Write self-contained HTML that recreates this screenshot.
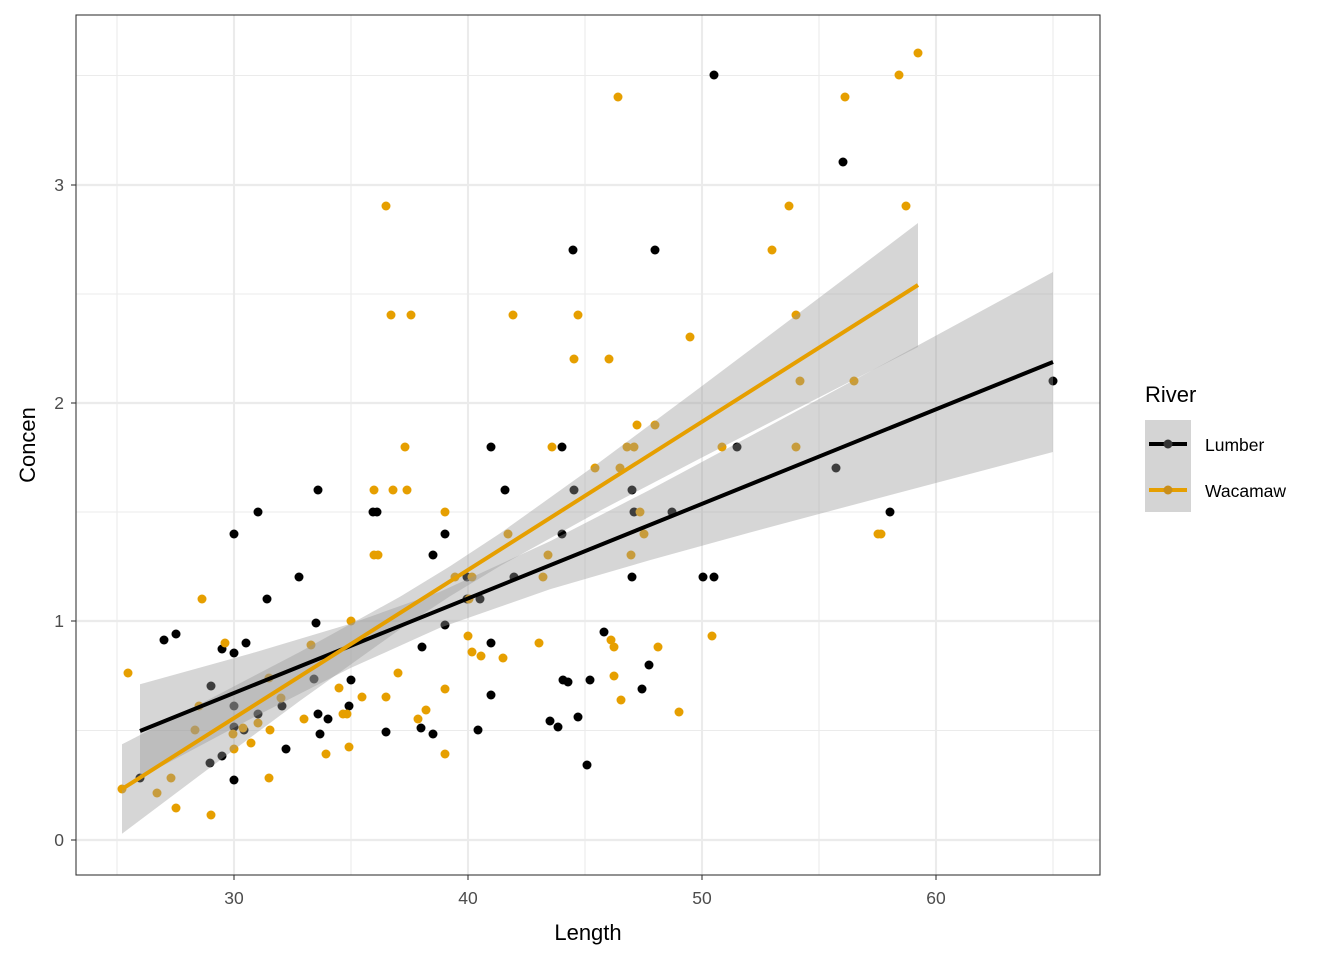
<!DOCTYPE html>
<html><head><style>body{margin:0;background:#fff}svg{display:block;font-family:"Liberation Sans",Arial,sans-serif}</style></head><body>
<svg width="1344" height="960" xmlns="http://www.w3.org/2000/svg">
<rect width="1344" height="960" fill="#fff"/>
<g stroke="#EBEBEB" stroke-width="1.07">
<line x1="117" y1="15" x2="117" y2="875"/><line x1="351" y1="15" x2="351" y2="875"/><line x1="585" y1="15" x2="585" y2="875"/><line x1="819" y1="15" x2="819" y2="875"/><line x1="1053" y1="15" x2="1053" y2="875"/>
<line x1="76" y1="730.5" x2="1100" y2="730.5"/><line x1="76" y1="512" x2="1100" y2="512"/><line x1="76" y1="294" x2="1100" y2="294"/><line x1="76" y1="75.5" x2="1100" y2="75.5"/>
</g>
<g stroke="#EBEBEB" stroke-width="2.13">
<line x1="234" y1="15" x2="234" y2="875"/><line x1="468" y1="15" x2="468" y2="875"/><line x1="702" y1="15" x2="702" y2="875"/><line x1="936" y1="15" x2="936" y2="875"/>
<line x1="76" y1="840" x2="1100" y2="840"/><line x1="76" y1="621" x2="1100" y2="621"/><line x1="76" y1="403" x2="1100" y2="403"/><line x1="76" y1="185" x2="1100" y2="185"/>
</g>
<g fill="#000">
<circle cx="714" cy="75" r="4.5"/><circle cx="843" cy="162" r="4.5"/><circle cx="573" cy="250" r="4.5"/><circle cx="655" cy="250" r="4.5"/><circle cx="1053" cy="381" r="4.5"/><circle cx="491" cy="447" r="4.5"/><circle cx="562" cy="447" r="4.5"/><circle cx="737" cy="447" r="4.5"/><circle cx="318" cy="490" r="4.5"/><circle cx="505" cy="490" r="4.5"/><circle cx="574" cy="490" r="4.5"/><circle cx="632" cy="490" r="4.5"/><circle cx="258" cy="512" r="4.5"/><circle cx="373" cy="512" r="4.5"/><circle cx="377" cy="512" r="4.5"/><circle cx="634" cy="512" r="4.5"/><circle cx="672" cy="512" r="4.5"/><circle cx="890" cy="512" r="4.5"/><circle cx="836" cy="468" r="4.5"/><circle cx="234" cy="534" r="4.5"/><circle cx="445" cy="534" r="4.5"/><circle cx="562" cy="534" r="4.5"/><circle cx="433" cy="555" r="4.5"/><circle cx="299" cy="577" r="4.5"/><circle cx="514" cy="577" r="4.5"/><circle cx="632" cy="577" r="4.5"/><circle cx="703" cy="577" r="4.5"/><circle cx="714" cy="577" r="4.5"/><circle cx="467" cy="577" r="4.5"/><circle cx="267" cy="599" r="4.5"/><circle cx="480" cy="599" r="4.5"/><circle cx="164" cy="640" r="4.5"/><circle cx="176" cy="634" r="4.5"/><circle cx="316" cy="623" r="4.5"/><circle cx="222" cy="649" r="4.5"/><circle cx="234" cy="653" r="4.5"/><circle cx="246" cy="643" r="4.5"/><circle cx="604" cy="632" r="4.5"/><circle cx="491" cy="643" r="4.5"/><circle cx="649" cy="665" r="4.5"/><circle cx="211" cy="686" r="4.5"/><circle cx="314" cy="679" r="4.5"/><circle cx="351" cy="680" r="4.5"/><circle cx="422" cy="647" r="4.5"/><circle cx="445" cy="625" r="4.5"/><circle cx="563" cy="680" r="4.5"/><circle cx="568" cy="682" r="4.5"/><circle cx="590" cy="680" r="4.5"/><circle cx="642" cy="689" r="4.5"/><circle cx="491" cy="695" r="4.5"/><circle cx="234" cy="706" r="4.5"/><circle cx="258" cy="714" r="4.5"/><circle cx="282" cy="706" r="4.5"/><circle cx="318" cy="714" r="4.5"/><circle cx="349" cy="706" r="4.5"/><circle cx="328" cy="719" r="4.5"/><circle cx="320" cy="734" r="4.5"/><circle cx="244" cy="730" r="4.5"/><circle cx="234" cy="727" r="4.5"/><circle cx="386" cy="732" r="4.5"/><circle cx="421" cy="728" r="4.5"/><circle cx="433" cy="734" r="4.5"/><circle cx="478" cy="730" r="4.5"/><circle cx="550" cy="721" r="4.5"/><circle cx="558" cy="727" r="4.5"/><circle cx="578" cy="717" r="4.5"/><circle cx="210" cy="763" r="4.5"/><circle cx="222" cy="756" r="4.5"/><circle cx="286" cy="749" r="4.5"/><circle cx="234" cy="780" r="4.5"/><circle cx="587" cy="765" r="4.5"/><circle cx="140" cy="778" r="4.5"/><circle cx="467" cy="599" r="4.5"/>
</g>
<g fill="#E69F00">
<circle cx="918" cy="53" r="4.5"/><circle cx="899" cy="75" r="4.5"/><circle cx="845" cy="97" r="4.5"/><circle cx="618" cy="97" r="4.5"/><circle cx="906" cy="206" r="4.5"/><circle cx="789" cy="206" r="4.5"/><circle cx="386" cy="206" r="4.5"/><circle cx="772" cy="250" r="4.5"/><circle cx="391" cy="315" r="4.5"/><circle cx="411" cy="315" r="4.5"/><circle cx="513" cy="315" r="4.5"/><circle cx="578" cy="315" r="4.5"/><circle cx="574" cy="359" r="4.5"/><circle cx="609" cy="359" r="4.5"/><circle cx="690" cy="337" r="4.5"/><circle cx="796" cy="315" r="4.5"/><circle cx="800" cy="381" r="4.5"/><circle cx="854" cy="381" r="4.5"/><circle cx="405" cy="447" r="4.5"/><circle cx="552" cy="447" r="4.5"/><circle cx="627" cy="447" r="4.5"/><circle cx="634" cy="447" r="4.5"/><circle cx="655" cy="425" r="4.5"/><circle cx="637" cy="425" r="4.5"/><circle cx="722" cy="447" r="4.5"/><circle cx="796" cy="447" r="4.5"/><circle cx="374" cy="490" r="4.5"/><circle cx="393" cy="490" r="4.5"/><circle cx="407" cy="490" r="4.5"/><circle cx="595" cy="468" r="4.5"/><circle cx="620" cy="468" r="4.5"/><circle cx="445" cy="512" r="4.5"/><circle cx="508" cy="534" r="4.5"/><circle cx="640" cy="512" r="4.5"/><circle cx="644" cy="534" r="4.5"/><circle cx="374" cy="555" r="4.5"/><circle cx="378" cy="555" r="4.5"/><circle cx="548" cy="555" r="4.5"/><circle cx="631" cy="555" r="4.5"/><circle cx="878" cy="534" r="4.5"/><circle cx="881" cy="534" r="4.5"/><circle cx="455" cy="577" r="4.5"/><circle cx="472" cy="577" r="4.5"/><circle cx="543" cy="577" r="4.5"/><circle cx="469" cy="599" r="4.5"/><circle cx="202" cy="599" r="4.5"/><circle cx="225" cy="643" r="4.5"/><circle cx="351" cy="621" r="4.5"/><circle cx="311" cy="645" r="4.5"/><circle cx="468" cy="636" r="4.5"/><circle cx="539" cy="643" r="4.5"/><circle cx="611" cy="640" r="4.5"/><circle cx="614" cy="647" r="4.5"/><circle cx="472" cy="652" r="4.5"/><circle cx="481" cy="656" r="4.5"/><circle cx="503" cy="658" r="4.5"/><circle cx="658" cy="647" r="4.5"/><circle cx="128" cy="673" r="4.5"/><circle cx="269" cy="678" r="4.5"/><circle cx="398" cy="673" r="4.5"/><circle cx="614" cy="676" r="4.5"/><circle cx="362" cy="697" r="4.5"/><circle cx="386" cy="697" r="4.5"/><circle cx="445" cy="689" r="4.5"/><circle cx="281" cy="698" r="4.5"/><circle cx="339" cy="688" r="4.5"/><circle cx="199" cy="706" r="4.5"/><circle cx="621" cy="700" r="4.5"/><circle cx="679" cy="712" r="4.5"/><circle cx="426" cy="710" r="4.5"/><circle cx="304" cy="719" r="4.5"/><circle cx="343" cy="714" r="4.5"/><circle cx="347" cy="714" r="4.5"/><circle cx="712" cy="636" r="4.5"/><circle cx="233" cy="734" r="4.5"/><circle cx="270" cy="730" r="4.5"/><circle cx="258" cy="723" r="4.5"/><circle cx="195" cy="730" r="4.5"/><circle cx="251" cy="743" r="4.5"/><circle cx="234" cy="749" r="4.5"/><circle cx="243" cy="728" r="4.5"/><circle cx="418" cy="719" r="4.5"/><circle cx="349" cy="747" r="4.5"/><circle cx="326" cy="754" r="4.5"/><circle cx="445" cy="754" r="4.5"/><circle cx="269" cy="778" r="4.5"/><circle cx="171" cy="778" r="4.5"/><circle cx="122" cy="789" r="4.5"/><circle cx="157" cy="793" r="4.5"/><circle cx="176" cy="808" r="4.5"/><circle cx="211" cy="815" r="4.5"/>
</g>
<polygon fill="rgba(153,153,153,0.4)" points="140,684.2 250,653.8 350,623.9 440,591.7 550,541.3 650,489.7 750,436.3 850,382.3 950,328 1053,272 1053,452 950,479.2 850,505.7 750,532.5 650,560.1 550,589.3 440,627.7 350,668.3 250,719.2 140,777.8"/>
<polygon fill="rgba(153,153,153,0.4)" points="122,744.3 200,704.1 300,651.9 400,596.7 450,566.3 500,533.4 600,461.9 700,387.5 800,312.3 918,223 918,347 800,407.1 700,458.5 600,510.7 500,566 450,596.3 400,629.3 300,700.7 200,775.1 122,833.7"/>
<line x1="140" y1="731" x2="1053" y2="362" stroke="#000" stroke-width="4"/>
<line x1="122" y1="789" x2="918" y2="285" stroke="#E69F00" stroke-width="4"/>
<rect x="76" y="15" width="1024" height="860" fill="none" stroke="#333" stroke-width="1.07"/>
<g stroke="#333" stroke-width="1.07">
<line x1="234" y1="875" x2="234" y2="880"/><line x1="468" y1="875" x2="468" y2="880"/><line x1="702" y1="875" x2="702" y2="880"/><line x1="936" y1="875" x2="936" y2="880"/>
<line x1="71" y1="840" x2="76" y2="840"/><line x1="71" y1="621" x2="76" y2="621"/><line x1="71" y1="403" x2="76" y2="403"/><line x1="71" y1="185" x2="76" y2="185"/>
</g>
<g font-size="17.5" fill="#4D4D4D">
<text x="234" y="904" text-anchor="middle">30</text><text x="468" y="904" text-anchor="middle">40</text><text x="702" y="904" text-anchor="middle">50</text><text x="936" y="904" text-anchor="middle">60</text>
<text x="64" y="846" text-anchor="end">0</text><text x="64" y="627" text-anchor="end">1</text><text x="64" y="409" text-anchor="end">2</text><text x="64" y="191" text-anchor="end">3</text>
</g>
<text x="588" y="940" font-size="22" text-anchor="middle">Length</text>
<text transform="translate(35,445) rotate(-90)" font-size="22" text-anchor="middle">Concen</text>
<text x="1145" y="402" font-size="22">River</text>
<rect x="1145" y="420" width="46" height="92" fill="#D4D4D4"/>
<line x1="1149" y1="444" x2="1187" y2="444" stroke="#000" stroke-width="4"/><circle cx="1168" cy="444" r="4.5" fill="#333"/>
<line x1="1149" y1="490" x2="1187" y2="490" stroke="#E69F00" stroke-width="4"/><circle cx="1168" cy="490" r="4.5" fill="#C98E1A"/>
<text x="1205" y="451" font-size="17.5">Lumber</text>
<text x="1205" y="497" font-size="17.5">Wacamaw</text>
</svg>
</body></html>
